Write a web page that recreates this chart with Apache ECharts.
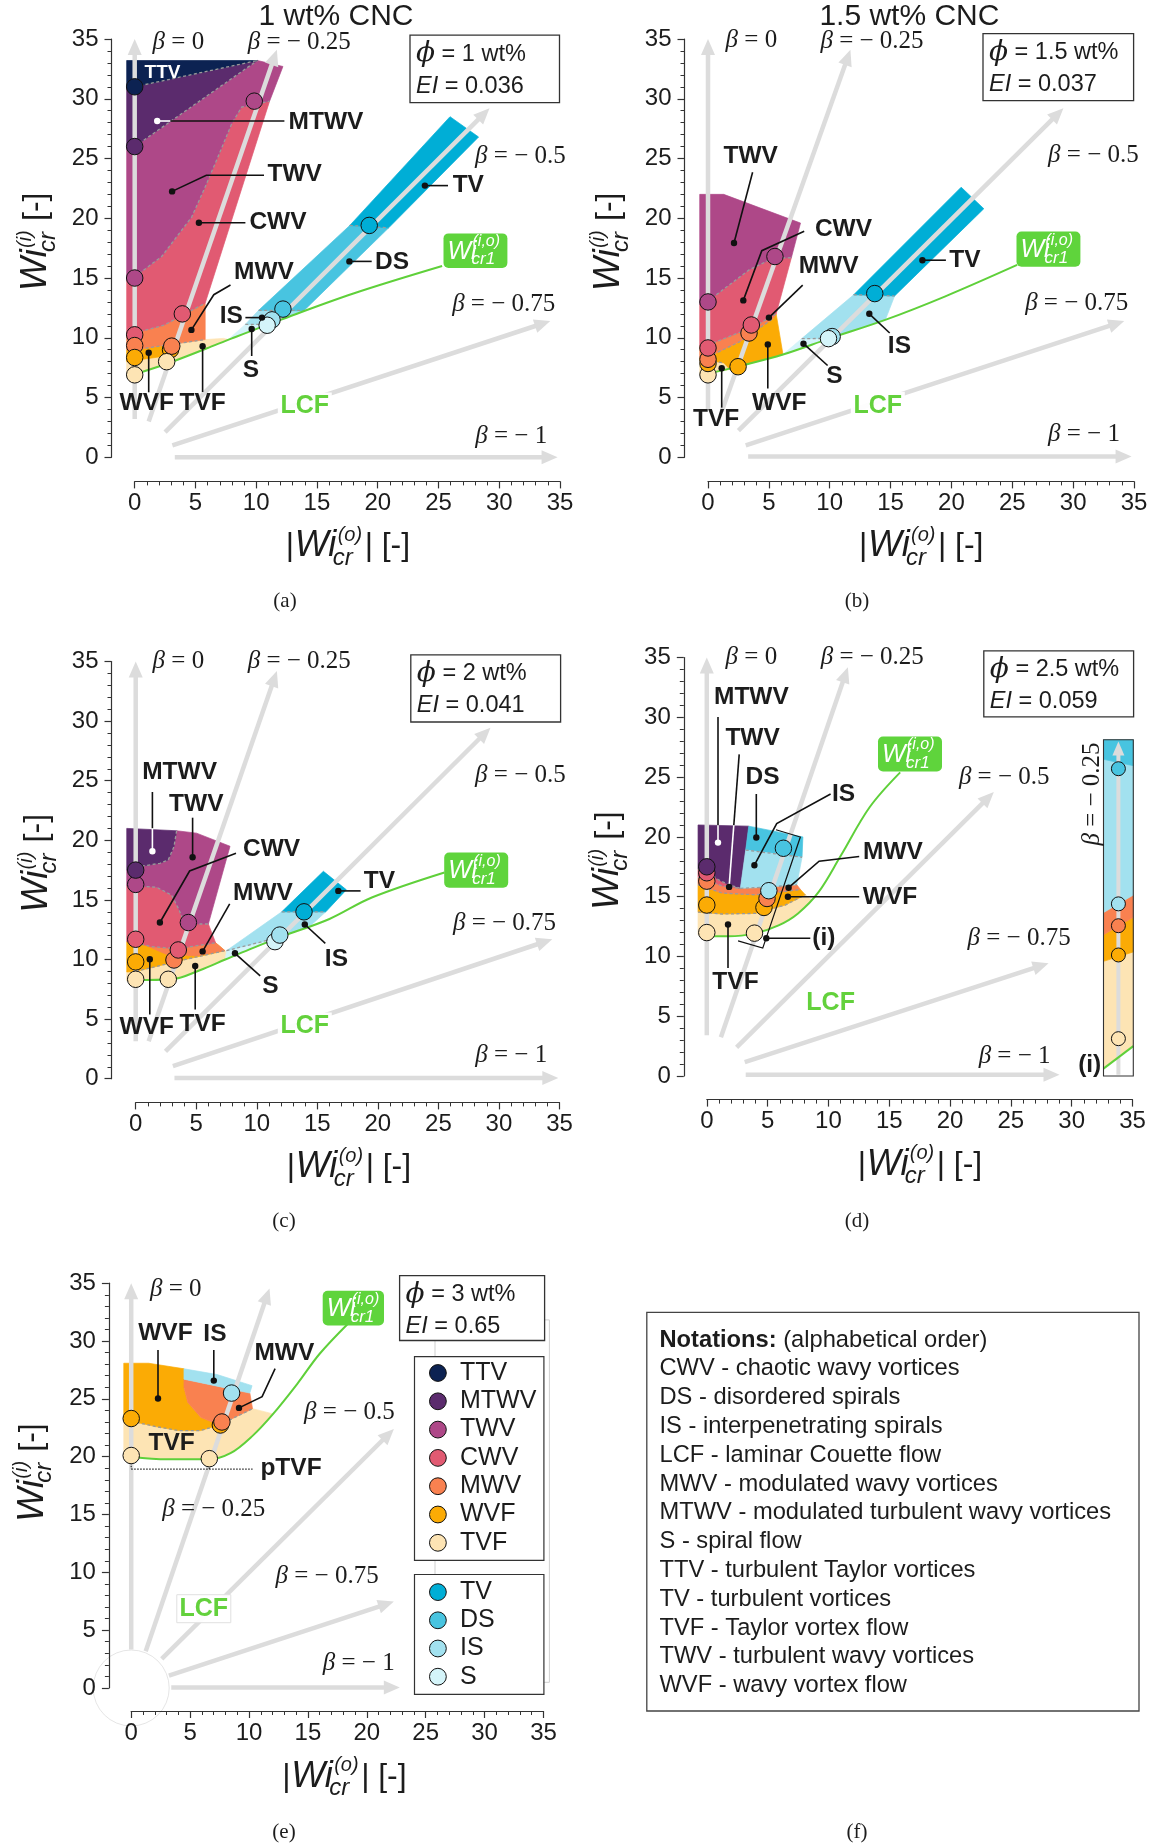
<!DOCTYPE html>
<html><head><meta charset="utf-8">
<script src="https://cdn.jsdelivr.net/npm/echarts@6/dist/echarts.min.js"></script>
<style>html,body{margin:0;padding:0;background:#fff}#c{width:1153px;height:1847px}</style>
</head><body><div id="c"></div><script>
// ---------------- DATA ----------------
const STATES_LEG1 = ['TTV','MTWV','TWV','CWV','MWV','WVF','TVF'];
const STATES_LEG2 = ['TV','DS','IS','S'];
const BETA_TXT = ['0','− 0.25','− 0.5','− 0.75','− 1'];
const PANEL_PHI = ['1','1.5','2','2.5','3'];
const PANEL_EL = ['0.036','0.037','0.041','0.059','0.65'];
const TITLES = ['1 wt% CNC','1.5 wt% CNC'];
const NOTES = ['CWV - chaotic wavy vortices','DS - disordered spirals','IS - interpenetrating spirals','LCF - laminar Couette flow','MWV - modulated wavy vortices','MTWV - modulated turbulent wavy vortices','S - spiral flow','TTV - turbulent Taylor vortices','TV - turbulent vortices','TVF - Taylor vortex flow','TWV - turbulent wavy vortices','WVF - wavy vortex flow'];

// panel (a) 1 wt%
const A_regions = [
 ['TVF', [[-0.66,6.9],[0,6.95],[2.7,7.85],[5.9,9.1],[7.7,9.85],[7.3,9.95],[5.8,9.85],[0,9.0],[-0.66,9.0]]],
 ['WVF', [[-0.66,9.0],[0,9.0],[2.7,9.38],[2.7,8.5],[0,8.1],[-0.66,8.0]]],
 ['MWV', [[-0.66,10.3],[0,10.4],[2.4,11.05],[5.8,12.9],[5.8,9.85],[0,9.0],[-0.66,9.0]]],
 ['CWV', [[-0.66,15.0],[0,15.1],[2.22,16.8],[4.69,20.1],[5.79,22.6],[6.88,25.2],[7.98,27.9],[8.8,29.3],[11.1,29.8],[5.8,12.9],[2.4,11.05],[0,10.4],[-0.66,10.3]]],
 ['TWV', [[-0.66,25.9],[0,26],[10.1,33.2],[12.2,32.7],[11.1,29.8],[8.8,29.3],[7.98,27.9],[6.88,25.2],[5.79,22.6],[4.69,20.1],[2.22,16.8],[0,15.1],[-0.66,15.0]]],
 ['MTWV', [[-0.66,30.9],[0,31],[10.1,33.2],[0,26],[-0.66,25.9]]],
 ['TTV', [[-0.66,33.2],[10.1,33.2],[0,31],[-0.66,30.9]]],
 ['S', [[7.7,9.85],[9.1,11.12],[10.9,11.1]]],
 ['IS', [[9.1,11.12],[10.2,12.3],[13.9,12.3],[12.0,11.5],[10.9,11.1]]],
 ['DS', [[10.2,12.3],[17.7,19.4],[20.9,19.2],[13.9,12.25]]],
 ['TV', [[17.7,19.4],[25.95,28.5],[28.3,26.8],[20.9,19.2]]]
];
const A_dash = [
 [[0,31],[10.1,33.2]], [[0,26],[10.1,33.2]],
 [[0,15.1],[2.22,16.8],[4.69,20.1],[5.79,22.6],[6.88,25.2],[7.98,27.9],[8.8,29.3],[11.1,29.8]],
 [[0,10.4],[2.4,11.05],[5.8,12.9]], [[0,9.0],[5.8,9.85]],
 [[17.7,19.4],[20.9,19.2]], [[10.2,12.3],[13.9,12.3]], [[9.1,11.12],[10.9,11.12]]
];
const A_markers = [[0,31,'TTV'],[0,26,'MTWV'],[0,15,'TWV'],[0,10.25,'CWV'],[0,9.35,'MWV'],[0,8.35,'WVF'],[0,6.9,'TVF'],[9.84,29.8,'TWV'],[3.92,12.0,'CWV'],[2.95,9.0,'WVF'],[3.05,9.3,'MWV'],[2.63,8.0,'TVF'],[19.3,19.4,'TV'],[12.2,12.4,'DS'],[11.3,11.5,'IS'],[10.9,11.05,'S']];
const A_lcf = [[0,6.95],[2.7,7.85],[5.9,9.1],[8.0,9.95],[12.0,11.5],[18.0,13.7],[25.3,16.0]];
const A_arrows = [[0,3.2,0,35],[1.15,3.0,11.7,34.1],[2.5,2.1,29.2,29.2],[3.1,1.0,34.2,11.4],[3.3,0,34.8,0]];

// panel (b) 1.5 wt%
const B_regions = [
 ['TVF', [[-0.68,6.9],[0,7.0],[1.8,7.35],[1.3,7.9],[0,8.1],[-0.68,8.1]]],
 ['WVF', [[-0.68,8.1],[0,8.1],[1.3,7.9],[1.8,7.35],[2.66,7.65],[6.16,8.6],[5.6,12.0],[5.34,11.6],[2.6,9.67],[0,8.4],[-0.68,8.3]]],
 ['MWV', [[-0.68,9.3],[0,9.4],[3.7,10.9],[5.6,12.0],[5.34,11.6],[2.6,9.67],[0,8.4],[-0.68,8.3]]],
 ['CWV', [[-0.68,12.8],[0,13.0],[0.68,13.6],[3.4,15.7],[5.34,16.65],[6.85,16.7],[5.6,12.0],[3.7,10.9],[0,9.4],[-0.68,9.3]]],
 ['TWV', [[-0.68,22.0],[1.29,22.0],[7.6,19.6],[6.85,16.7],[5.34,16.65],[3.4,15.7],[0.68,13.6],[0,13.0],[-0.68,12.8]]],
 ['S', [[6.16,8.6],[7.7,9.93],[10.0,9.95]]],
 ['IS', [[7.7,9.93],[11.97,13.6],[15.33,13.5],[14.57,11.5],[10.0,9.95]]],
 ['TV', [[11.97,13.6],[20.8,22.6],[22.66,20.8],[15.33,13.5]]]
];
const B_dash = [
 [[0,13.0],[0.68,13.6],[3.4,15.7],[5.34,16.65],[6.85,16.7]], [[0,9.4],[3.7,10.9],[5.6,12.0]],
 [[0,8.4],[2.6,9.67],[5.34,11.6]], [[0,8.1],[1.3,7.9]], [[11.97,13.6],[15.33,13.5]], [[7.7,9.93],[10.0,9.95]]
];
const B_markers = [[0,6.9,'TVF'],[0,7.85,'WVF'],[0,8.2,'MWV'],[0,9.15,'CWV'],[0,13.0,'TWV'],[2.47,7.58,'WVF'],[3.37,10.4,'MWV'],[3.56,11.07,'CWV'],[5.5,16.8,'TWV'],[13.7,13.7,'TV'],[10.2,10.1,'IS'],[9.9,9.93,'S']];
const B_lcf = [[0,7.0],[2.66,7.65],[6.16,8.6],[10.0,9.95],[14.56,11.5],[19.45,13.45],[25.4,16.1]];
const B_arrows = [[0,4.0,0,35],[1.13,3.85,11.7,34.1],[2.5,2.24,29.2,29.2],[3.1,1.0,34.2,11.4],[3.3,0.06,34.8,0.06]];

// panel (c) 2 wt%
const C_regions = [
 ['TVF', [[-0.74,8.2],[0,8.28],[3.0,8.35],[5.3,9.1],[7.4,10.0],[7.6,10.6],[7.37,10.74],[3.93,9.96],[0,9.0],[-0.74,8.95]]],
 ['WVF', [[-0.74,11.5],[0,11.4],[1.2,11.1],[3.4,10.9],[6.6,11.4],[7.37,10.74],[3.93,9.96],[0,9.0],[-0.74,8.95]]],
 ['MWV', [[0.8,11.2],[3.4,10.9],[6.6,11.4],[7.37,10.74],[5.0,10.3],[2.5,10.45]]],
 ['CWV', [[-0.74,16.2],[0,16.17],[1.73,16.06],[2.97,15.4],[3.52,14.3],[3.93,13.3],[4.62,12.98],[6.0,12.98],[6.6,11.4],[3.4,10.9],[1.2,11.1],[0,11.4],[-0.74,11.5]]],
 ['TWV', [[3.38,20.8],[5.03,20.6],[7.79,19.5],[6.0,12.98],[4.62,12.98],[3.93,13.3],[3.52,14.3],[2.97,15.4],[1.73,16.06],[0,16.17],[-0.74,16.2],[-0.74,17.5],[0,17.57],[0.63,17.85],[2.0,18.07],[2.69,18.35],[3.16,19.46]]],
 ['MTWV', [[-0.74,21.0],[3.38,20.8],[3.16,19.46],[2.69,18.35],[2.0,18.07],[0.63,17.85],[0,17.57],[-0.74,17.5]]],
 ['S', [[7.4,10.0],[7.5,10.74],[12.2,11.95],[9.4,10.85]]],
 ['IS', [[7.5,10.74],[12.06,14.0],[15.7,14.0],[14.5,12.9],[12.2,11.95]]],
 ['TV', [[12.06,14.0],[15.5,17.4],[17.4,15.85],[15.7,14.0]]]
];
const C_dash = [
 [[3.38,20.8],[3.16,19.46],[2.69,18.35],[2.0,18.07],[0.63,17.85],[0,17.57]],
 [[0,16.17],[1.73,16.06],[2.97,15.4],[3.52,14.3],[3.93,13.3],[4.62,12.98],[6.0,12.98]],
 [[0,11.4],[1.2,11.1],[3.4,10.9],[6.6,11.4]], [[0,9.0],[3.93,9.96],[7.37,10.74]],
 [[12.06,14.0],[15.7,14.0]], [[7.5,10.74],[12.2,11.95]]
];
const C_markers = [[0,16.3,'TWV'],[0,17.5,'MTWV'],[0,11.7,'CWV'],[0,9.8,'WVF'],[0,8.34,'TVF'],[4.35,13.1,'TWV'],[3.16,9.96,'MWV'],[3.52,10.8,'CWV'],[2.69,8.34,'TVF'],[13.9,14.0,'TV'],[11.5,11.5,'S'],[11.9,12.05,'IS']];
const C_lcf = [[0,8.28],[3.0,8.35],[5.3,9.1],[7.4,10.0],[9.4,10.85],[12.0,11.9],[16,13.4],[19.5,15.2],[25.5,17.3]];
const C_arrows = [[0,3.15,0,35],[1.07,3.15,11.66,34.2],[2.46,2.3,29.3,29.45],[3.07,1.06,34.4,11.7],[3.2,0.05,34.9,0.05]];

// panel (d) 2.5 wt%
const D_regions = [
 ['TVF', [[-0.72,13.7],[1.25,13.55],[4.0,13.6],[6.46,14.3],[8.1,15.16],[8.6,14.75],[7.5,13.6],[5.9,12.6],[4.0,11.95],[1.8,11.68],[0,11.72],[-0.72,11.8]]],
 ['WVF', [[-0.72,16.0],[1.25,15.3],[4.0,15.16],[7.7,15.6],[8.1,15.16],[6.46,14.3],[4.0,13.6],[1.25,13.55],[-0.72,13.7]]],
 ['MWV', [[-0.72,16.6],[0,16.4],[1.25,15.9],[2.76,15.7],[5.09,15.8],[7.4,16.0],[7.7,15.6],[4.0,15.16],[1.25,15.3],[-0.72,16.0]]],
 ['CWV', [[-0.72,17.3],[0,17.1],[0.98,16.4],[1.8,16.0],[2.76,15.7],[1.25,15.9],[0,16.4],[-0.72,16.6]]],
 ['MTWV', [[-0.72,21.0],[3.45,20.9],[2.76,15.7],[1.8,16.0],[0.98,16.4],[0,17.1],[-0.72,17.3]]],
 ['DS', [[3.45,20.9],[7.9,20.0],[7.83,18.3],[3.2,18.9]]],
 ['IS', [[3.2,18.9],[7.83,18.3],[7.4,16.0],[5.09,15.8],[2.76,15.7]]]
];
const D_dash = [
 [[-0.72,17.3],[0,17.1],[0.98,16.4],[1.8,16.0],[2.76,15.7]],
 [[-0.72,16.6],[0,16.4],[1.25,15.9],[2.76,15.7],[5.09,15.8],[7.4,16.0]],
 [[-0.72,16.0],[1.25,15.3],[4.0,15.16],[7.7,15.6]],
 [[-0.72,13.7],[1.25,13.55],[4.0,13.6],[6.46,14.3],[8.1,15.16]],
 [[3.2,18.9],[7.83,18.3]]
];
const D_markers = [[0,12.0,'TVF'],[0,14.3,'WVF'],[0,16.3,'MWV'],[0,17.0,'CWV'],[0,17.5,'MTWV'],[3.92,11.95,'TVF'],[4.7,14.1,'WVF'],[4.95,14.85,'MWV'],[5.1,15.5,'IS'],[6.3,19.05,'DS']];
const D_lcf = [[0,11.72],[1.8,11.68],[4.0,11.95],[5.9,12.6],[7.5,13.6],[9.2,15.4],[11.0,18.4],[13.4,22.5],[15.9,25.4]];
const D_arrows = [[0,3.4,0,35],[1.16,3.24,11.6,34.2],[2.45,2.4,23.6,23.75],[3.12,1.16,28.1,9.43],[3.2,0.1,29.0,0.1]];
const D_box = [[5.69,20.6],[7.69,19.99],[4.6,10.7],[2.57,11.3]];

// inset (i) of panel (d): position along the beta = -0.25 ray (normalised)
const I_regions = [
 ['TVF', [[0,0.341],[1,0.369],[1,0.089],[0,0.022]]],
 ['WVF', [[0,0.42],[1,0.472],[1,0.369],[0,0.341]]],
 ['MWV', [[0,0.486],[1,0.538],[1,0.472],[0,0.42]]],
 ['IS', [[0,0.942],[1,0.923],[1,0.538],[0,0.486]]],
 ['DS', [[0,1],[1,1],[1,0.923],[0,0.942]]]
];
const I_lcf = [[0,0.022],[1,0.089]];
const I_markers = [[0.5,0.111,'TVF'],[0.5,0.36,'WVF'],[0.5,0.447,'MWV'],[0.5,0.512,'IS'],[0.5,0.914,'DS']];
const I_arrows = [[0.5,0.004,0.5,0.995]];

// panel (e) 3 wt%
const E_regions = [
 ['TVF', [[-0.63,23.2],[0,23.07],[2.1,22.6],[4.0,22.26],[5.9,22.26],[7.48,22.74],[10.3,24.15],[12.05,23.7],[10.3,21.8],[8.43,20.3],[6.53,19.77],[3.06,19.77],[0,20.0],[-0.63,20.05]]],
 ['WVF', [[-0.63,28.08],[1.48,28.08],[4.48,27.6],[4.48,26.0],[4.8,24.7],[5.9,23.4],[7.48,22.74],[5.9,22.26],[4.0,22.26],[2.1,22.6],[0,23.07],[-0.63,23.2]]],
 ['MWV', [[4.48,26.7],[7.3,26.1],[10.07,25.5],[10.3,24.15],[7.48,22.74],[5.9,23.4],[4.8,24.7],[4.48,26.0]]],
 ['IS', [[4.48,27.6],[7.3,27.1],[10.26,26.14],[10.07,25.5],[7.3,26.1],[4.48,26.7]]]
];
const E_dash = [[[0,23.07],[2.1,22.6],[4.0,22.26],[5.9,22.26],[7.48,22.74]], [[7.48,22.74],[10.3,24.15]]];
const E_dot = [[[0,18.93],[10.3,18.93]], [[0,20.0],[0,18.93]], [[6.63,19.83],[6.63,18.93]]];
const E_markers = [[0,23.3,'WVF'],[0,20.1,'TVF'],[8.52,25.5,'IS'],[7.57,22.74,'WVF'],[7.7,23.0,'MWV'],[6.63,19.83,'TVF']];
const E_lcf = [[0,20.0],[3.06,19.77],[6.53,19.77],[8.43,20.3],[10.3,21.8],[12.05,23.7],[14.1,26.3],[16.0,28.9],[18.4,31.5]];
const E_arrows = [[0,3.33,0,35.0],[1.23,3.17,11.74,34.55],[2.59,2.52,22.3,22.4],[3.2,1.07,22.3,7.47],[3.4,0.05,22.8,0.05]];
const E_origin = [[0,0]];

// ---------------- STYLE / LAYOUT ----------------
const SANS = '"Liberation Sans", Arial, Helvetica, sans-serif';
const SERIF = '"Liberation Serif", "DejaVu Serif", serif';
const PHIF = '"DejaVu Serif", "Liberation Serif", serif';
const INK = '#1c1c1c';
const COL = {TTV:'#0c2252',MTWV:'#5b2b6d',TWV:'#ae4888',CWV:'#e15a72',MWV:'#f98150',WVF:'#fbab05',TVF:'#fde4b4',TV:'#00aed6',DS:'#48c4e0',IS:'#a2e1ef',S:'#d4f4f9'};
const GR = [
 {l:134.7,t:39,w:425.3,h:418.3,yo:23.2,xo:24.1},
 {l:708,t:39,w:426,h:418.3,yo:23.5,xo:24.1},
 {l:135.7,t:661.5,w:423.8,h:417.2,yo:24.2,xo:23.7},
 {l:706.8,t:657.6,w:425.7,h:418.4,yo:23,xo:23.6},
 {l:131.2,t:1283.2,w:412.3,h:404.8,yo:22.3,xo:23}
];
const INSET = {l:1103.5,t:739.8,w:29.8,h:336.2};
const LAB = 24.5;

// ---------------- SERIES BUILDERS ----------------
function idx(n){ const a=[]; for(let i=0;i<n;i++) a.push([i,0]); return a; }
function regionSeries(gi, regs){
 return {type:'custom',coordinateSystem:'cartesian2d',xAxisIndex:gi,yAxisIndex:gi,clip:false,silent:true,z:1,data:idx(regs.length),
  renderItem:function(p,api){ const r=regs[p.dataIndex]; return {type:'polygon',shape:{points:r[1].map(q=>api.coord(q))},style:{fill:COL[r[0]],stroke:COL[r[0]],lineWidth:0.7}}; }};
}
function polySeries(gi, lines, st, z){
 return {type:'custom',coordinateSystem:'cartesian2d',xAxisIndex:gi,yAxisIndex:gi,clip:false,silent:true,z:z||2,data:idx(lines.length),
  renderItem:function(p,api){ return {type:'polyline',shape:{points:lines[p.dataIndex].map(q=>api.coord(q))},style:Object.assign({fill:null,stroke:'#9a9a9a',lineWidth:1.3,lineDash:[3,2.5]},st||{})}; }};
}
function arrowSeries(gi, arr, W, HL, HW){
 return {type:'custom',coordinateSystem:'cartesian2d',xAxisIndex:gi,yAxisIndex:gi,clip:false,silent:true,z:3,data:idx(arr.length),
  renderItem:function(p,api){ const a=arr[p.dataIndex]; const p1=api.coord([a[0],a[1]]), p2=api.coord([a[2],a[3]]);
   const dx=p2[0]-p1[0], dy=p2[1]-p1[1], L=Math.hypot(dx,dy), ux=dx/L, uy=dy/L; const bx=p2[0]-ux*HL, by=p2[1]-uy*HL;
   return {type:'group',children:[
    {type:'line',shape:{x1:p1[0],y1:p1[1],x2:bx+ux,y2:by+uy},style:{stroke:'#dcdcdc',lineWidth:W}},
    {type:'polygon',shape:{points:[[p2[0],p2[1]],[bx-uy*HW/2,by+ux*HW/2],[bx+uy*HW/2,by-ux*HW/2]]},style:{fill:'#dcdcdc'}}]}; }};
}
function lcfSeries(gi, pts, smooth){
 return {type:'line',xAxisIndex:gi,yAxisIndex:gi,data:pts,showSymbol:false,symbol:'none',smooth:smooth,clip:false,silent:true,z:4,lineStyle:{color:'#5fd03a',width:2}};
}
function markerSeries(gi, m, size){
 return {type:'scatter',xAxisIndex:gi,yAxisIndex:gi,clip:false,silent:true,z:6,symbolSize:size,
  data:m.map(d=>({value:[d[0],d[1]],itemStyle:{color:COL[d[2]],borderColor:'#111',borderWidth:1,opacity:1}}))};
}

const series = [];
[[A_regions,A_dash,A_arrows,A_lcf,A_markers],[B_regions,B_dash,B_arrows,B_lcf,B_markers],[C_regions,C_dash,C_arrows,C_lcf,C_markers],[D_regions,D_dash,D_arrows,D_lcf,D_markers],[E_regions,E_dash,E_arrows,E_lcf,E_markers]].forEach((P,gi)=>{
 series.push(regionSeries(gi,P[0]), polySeries(gi,P[1]), arrowSeries(gi,P[2],4.5,16,14), lcfSeries(gi,P[3],0.35), markerSeries(gi,P[4],16.5));
});
series.push(polySeries(3,[D_box],{stroke:'#111',lineWidth:1.2,lineDash:null,fill:null},5));
series.push(polySeries(4,E_dot,{stroke:'#222',lineWidth:1.2,lineDash:[1.5,1.5]},5));
series.push({type:'scatter',xAxisIndex:4,yAxisIndex:4,clip:false,silent:true,z:-1,symbolSize:76,data:E_origin,itemStyle:{color:'#fff',borderColor:'#d6d6d6',borderWidth:0.8}});
// inset
series.push(regionSeries(5,I_regions), arrowSeries(5,I_arrows,4,14,12), lcfSeries(5,I_lcf,false), markerSeries(5,I_markers,14));
series.push({type:'custom',coordinateSystem:'cartesian2d',xAxisIndex:5,yAxisIndex:5,clip:false,silent:true,z:7,data:[[0,0]],
 renderItem:function(p,api){ const a=api.coord([0,1]), b=api.coord([1,0]); return {type:'rect',shape:{x:a[0],y:a[1],width:b[0]-a[0],height:b[1]-a[1]},style:{fill:null,stroke:'#333',lineWidth:1.1}}; }});

// ---------------- AXES ----------------
const AX_LINE = {show:true,onZero:false,lineStyle:{color:'#333',width:1.2}};
const xAxis = GR.map((g,i)=>({gridIndex:i,type:'value',min:0,max:35,interval:5,offset:g.xo,position:'bottom',axisLine:AX_LINE,
 axisTick:{show:true,length:7,lineStyle:{color:'#333',width:1.2}},minorTick:{show:true,splitNumber:5,length:4,lineStyle:{color:'#333',width:1}},
 splitLine:{show:false},minorSplitLine:{show:false},axisLabel:{fontSize:24,color:INK,fontFamily:SANS,margin:10}}));
const yAxis = GR.map((g,i)=>({gridIndex:i,type:'value',min:0,max:35,interval:5,offset:g.yo,position:'left',axisLine:AX_LINE,
 axisTick:{show:true,length:7,lineStyle:{color:'#333',width:1.2}},minorTick:{show:true,splitNumber:5,length:4,lineStyle:{color:'#333',width:1}},
 splitLine:{show:false},minorSplitLine:{show:false},axisLabel:{fontSize:24,color:INK,fontFamily:SANS,margin:13}}));
xAxis.push({gridIndex:5,type:'value',min:0,max:1,show:false});
yAxis.push({gridIndex:5,type:'value',min:0,max:1,show:false});
const grid = GR.map(g=>({left:g.l,top:g.t,width:g.w,height:g.h,containLabel:false,outerBoundsMode:'none'}));
grid.push({left:INSET.l,top:INSET.t,width:INSET.w,height:INSET.h,containLabel:false,outerBoundsMode:'none'});

// ---------------- ANNOTATIONS (text, callouts, boxes) ----------------
const G = [];
function T(x,y,text,o){ o=o||{}; const st={legacy:false,text:text,fill:o.color||INK,fontSize:o.size||23,fontFamily:o.family||SANS,fontWeight:o.bold?'bold':'normal',fontStyle:o.italic?'italic':'normal',align:o.align||'center',verticalAlign:o.va||'middle'}; if(o.rich) st.rich=o.rich;
 return {type:'text',x:x,y:y,rotation:o.rot||0,z:o.z||120,silent:true,style:st}; }
function PL(pts,c,w){ return {type:'polyline',z:115,silent:true,shape:{points:pts},style:{stroke:c||'#111',lineWidth:w||1.6,fill:null}}; }
function CI(x,y,r,f,s,z){ return {type:'circle',z:z||116,silent:true,shape:{cx:x,cy:y,r:r},style:{fill:f,stroke:s||null,lineWidth:1}}; }
function RC(x,y,w,h,o){ return {type:'rect',z:o.z||108,silent:true,shape:{x:x,y:y,width:w,height:h,r:o.r||0},style:{fill:o.fill||null,stroke:o.stroke||null,lineWidth:o.lw||1.2}}; }
function NG(x,y,rot,parts){ return {type:'group',x:x,y:y,rotation:rot,z:120,children:parts.map(p=>({type:'text',x:p[1],y:p[2],z:120,silent:true,style:{legacy:false,text:p[0],fill:INK,fontSize:p[3],fontFamily:SANS,fontStyle:p[4]?'italic':'normal',align:'left',verticalAlign:'middle'}}))}; }
const XNAME = [['|',0,0,32,0],['Wi',9,0,36,1],['(o)',52,-11,20,1],['cr',47,12,24,1],['|',79,0,32,0],['[-]',96,0,32,0]];
const YNAME = [['Wi',0,0,36,1],['(i)',43,-11,20,1],['cr',39,12,24,1],['[-]',70,0,32,0]];
const betaRich = {b:{fontStyle:'italic',fontFamily:SERIF,fontSize:25,fill:INK}};

G.push(T(336,17,TITLES[0],{size:30}), T(909.4,17,TITLES[1],{size:30}));
const BETA_POS = [
 [[178.4,42.1],[299.3,42.1],[520.4,156.1],[503.7,304.2],[511.2,436.3]],
 [[751.4,40.2],[872,41.3],[1093.4,155],[1076.7,303],[1084,434.4]],
 [[178.4,661.5],[299.3,661.5],[520.4,775.4],[504.5,923.7],[511.2,1055]],
 [[751.4,657.6],[872.3,657.6],[1004.2,777.4],[1019.1,938.3],[1014.6,1056.9]],
 [[175.8,1289.2],[213.8,1509],[349.4,1412.7],[327.1,1576.4],[358.7,1663.6]]
];
BETA_POS.forEach(ps=>ps.forEach((p,i)=>G.push(T(p[0],p[1],'{b|β} = '+BETA_TXT[i],{family:SERIF,size:25,rich:betaRich}))));
GR.forEach(g=>{ const y0=g.t+g.h; G.push(NG(g.l-98.7,y0-166.3,Math.PI/2,YNAME), NG(g.l+151,y0+88.7,0,XNAME)); });

const PHI_BOX = [[410,35.2,559.5,102.6],[983,33.7,1133.6,100.6],[410.8,654.8,560.6,722],[983.8,650.8,1133.6,716.9],[399.6,1275.7,544.6,1340.5]];
G.push(RC(435,1319.9,114.4,362.4,{stroke:'#cfcfcf',lw:1,z:104}));
PHI_BOX.forEach((b,i)=>{
 G.push(RC(b[0],b[1],b[2]-b[0],b[3]-b[1],{fill:'#fff',stroke:'#333',lw:1.3,z:108}));
 G.push(T(b[0]+6,b[1]+19,'{p|ϕ} = '+PANEL_PHI[i]+' wt%',{align:'left',size:23.5,rich:{p:{fontFamily:PHIF,fontStyle:'italic',fontSize:28,fill:INK}}}));
 G.push(T(b[0]+6,b[1]+51,'{e|EI} = '+PANEL_EL[i],{align:'left',size:23.5,rich:{e:{fontFamily:SANS,fontStyle:'italic',fontSize:23.5,fill:INK}}}));
});
const WI_BOX = [[443.5,233.4,507.4,267.9],[1016.5,231.5,1080.4,266.7],[444.2,852.5,508.2,887.7],[878,736.6,942,771.4],[322.7,1290.7,384,1325.5]];
WI_BOX.forEach(b=>{ const m=(b[1]+b[3])/2;
 G.push(RC(b[0],b[1],b[2]-b[0],b[3]-b[1],{fill:'#5fd43c',r:5,z:108}));
 G.push(T(b[0]+4,m+1,'Wi',{align:'left',italic:true,size:25,color:'#fff'}), T(b[0]+29,m-9,'(i,o)',{align:'left',italic:true,size:16,color:'#fff'}), T(b[0]+28,m+9,'cr1',{align:'left',italic:true,size:17,color:'#fff'}));
});
const LCF_POS = [[304.8,406.4],[877.8,405.7],[304.8,1026.5],[830.6,1003.6],[203.8,1608.7]];
LCF_POS.forEach((p,i)=>{ G.push(RC(p[0]-27,p[1]-14,54,28,{fill:'rgba(255,255,255,0.92)',stroke:i===4?'#e0e0e0':null,lw:1,z:109})); G.push(T(p[0],p[1],'LCF',{bold:true,size:25,color:'#63d13c'})); });

const K='#111';
const LEAD = [
 // (a)
 {p:[[157.2,121],[170.5,121]],c:'#fff',dot:'#fff'},{p:[[170.5,121],[284.4,121]]},
 {p:[[172.1,191.4],[206.3,175.3],[264,175.3]],dot:K},{p:[[198.9,222.7],[245.4,222.7]],dot:K},
 {p:[[191.4,329.9],[213.8,294.7],[230.5,285]],dot:K},{p:[[262,317.6],[245.4,317.6]],dot:K},
 {p:[[251.7,329],[251.7,356]],dot:K},{p:[[148.7,352.8],[148.7,392.3]],dot:K},{p:[[202.6,346.3],[202.6,392]],dot:K},
 {p:[[424.9,185.6],[448,185.6]],dot:K},{p:[[349.4,261.4],[371.7,261.4]],dot:K},
 // (b)
 {p:[[734,243],[752.6,172.2]],dot:K},{p:[[743.3,300.4],[761.8,250.7],[804.2,231.2]],dot:K},{p:[[768.9,317.6],[802.7,285.1]],dot:K},
 {p:[[922.4,260.2],[945.9,260.2]],dot:K},{p:[[869.3,313.8],[889.7,333]],dot:K},{p:[[803.5,343.7],[827.6,365.5]],dot:K},
 {p:[[767.8,344.4],[767.8,388.4]],dot:K},{p:[[721.7,368.2],[721.7,407.6]],dot:K},
 // (c)
 {p:[[152.4,792],[152.4,828.4]]},{p:[[152.4,851.3],[152.4,828.4]],c:'#fff',dot:'#fff'},
 {p:[[192.6,857.2],[192.6,817.7]],dot:K},{p:[[159.9,922.5],[189.6,871],[236,853.3]],dot:K},{p:[[202.6,951.4],[229.7,903.9]],dot:K},
 {p:[[338.3,890.9],[360.6,890.9]],dot:K},{p:[[304.8,924.5],[325.3,943.4]],dot:K},{p:[[235,953.3],[260.2,975.9]],dot:K},
 {p:[[149.8,959.3],[149.8,1014.6]],dot:K},{p:[[195.2,966],[195.2,1009.5]],dot:K},
 // (d)
 {p:[[718,716.9],[718,825.3]]},{p:[[718,842.6],[718,825.3]],c:'#fff',dot:'#fff'},
 {p:[[739.2,754.4],[733.8,825.3]]},{p:[[729.1,886.9],[733.8,825.3]],c:'#fff',dot:K},
 {p:[[756.3,837.5],[756.3,794]],dot:K},{p:[[754.4,865.2],[776.7,823.6],[830.6,794]],dot:K},
 {p:[[788.6,887.7],[819.1,861.2],[859.2,856.5]],dot:K},{p:[[787.9,896.8],[859.2,896.8]],dot:K},
 {p:[[766.3,938.3],[810.3,938.3]],dot:K},{p:[[728,924.5],[728,968]],dot:K},
 // (e)
 {p:[[158,1398.5],[158,1349.9]],dot:K},{p:[[213.8,1380.6],[213.8,1349.9]],dot:K},{p:[[239,1407.9],[262.1,1396.7],[275.1,1368.6]],dot:K}
];
LEAD.forEach(l=>{ G.push(PL(l.p,l.c)); if(l.dot) G.push(CI(l.p[0][0],l.p[0][1],3.2,l.dot)); });
const LABELS = [
 ['TTV',162.5,72.5,'#fff',19],['MTWV',326,122.5],['TWV',294.7,174],['CWV',278,222],['MWV',264,272.5],['IS',231.2,316.5],['S',251,370.5],['WVF',146.8,403.7],['TVF',202.6,403.7],['TV',468.3,185.6],['DS',392,262],
 ['TWV',750.7,156.1],['CWV',843.5,229.6],['MWV',828.6,266],['TV',965,260.2],['IS',899.4,346.3],['S',834.3,376.2],['WVF',779.3,403.7],['TVF',716.1,419],
 ['MTWV',179.6,772.2],['TWV',196.3,803.9],['CWV',271.6,849.3],['MWV',263,892.8],['TV',379.4,881],['IS',336.4,958.9],['S',270.3,985.8],['WVF',146.8,1027.3],['TVF',202.6,1024.1],
 ['MTWV',751.4,697.1],['TWV',752.6,737.8],['DS',762.6,777.4],['IS',843.5,794],['MWV',893,852.5],['WVF',890,897.6],['(i)',823.8,938.3],['TVF',735.5,981.8],['(i)',1089.7,1064.8],
 ['WVF',165.4,1333],['IS',214.9,1334.1],['MWV',284.4,1353.6],['TVF',171.7,1443.5],['pTVF',291,1467.8]
];
LABELS.forEach(t=>G.push(T(t[1],t[2],t[0],{bold:true,color:t[3]||INK,size:t[4]||LAB})));
G.push(T(1092,794,'{b|β} = − 0.25',{family:SERIF,size:25,rot:Math.PI/2,rich:betaRich}));

// legend boxes in (e)
G.push(RC(414.5,1356.6,129.4,203.7,{fill:'#fff',stroke:'#333',lw:1.2,z:108}), RC(414.5,1574.5,129.4,119.8,{fill:'#fff',stroke:'#333',lw:1.2,z:108}));
STATES_LEG1.forEach((k,i)=>{ const y=1373+28.3*i; G.push(CI(437.9,y,8.4,COL[k],'#111'), T(460,y,k,{align:'left',size:25})); });
STATES_LEG2.forEach((k,i)=>{ const y=1592.1+28.2*i; G.push(CI(437.9,y,8.4,COL[k],'#111'), T(460,y,k,{align:'left',size:25})); });

// notation box (f)
G.push(RC(646.8,1312.3,492.2,398.7,{fill:'#fff',stroke:'#444',lw:1.3,z:108}));
G.push(T(659.5,1340,'{b|Notations:} (alphabetical order)',{align:'left',size:23.7,rich:{b:{fontWeight:'bold',fontSize:23.7,fontFamily:SANS,fill:INK}}}));
NOTES.forEach((s,i)=>G.push(T(659.5,1340+28.8*(i+1),s,{align:'left',size:23.7})));

// sub-captions
[['(a)',285,601],['(b)',857,601],['(c)',284,1221],['(d)',857,1221],['(e)',284,1832],['(f)',857,1832]].forEach(c=>G.push(T(c[1],c[2],c[0],{family:SERIF,size:21})));

const chart = echarts.init(document.getElementById('c'), null, {renderer:'canvas'});
chart.setOption({animation:false,backgroundColor:'#fff',grid:grid,xAxis:xAxis,yAxis:yAxis,series:series,graphic:{elements:G}});
</script></body></html>
